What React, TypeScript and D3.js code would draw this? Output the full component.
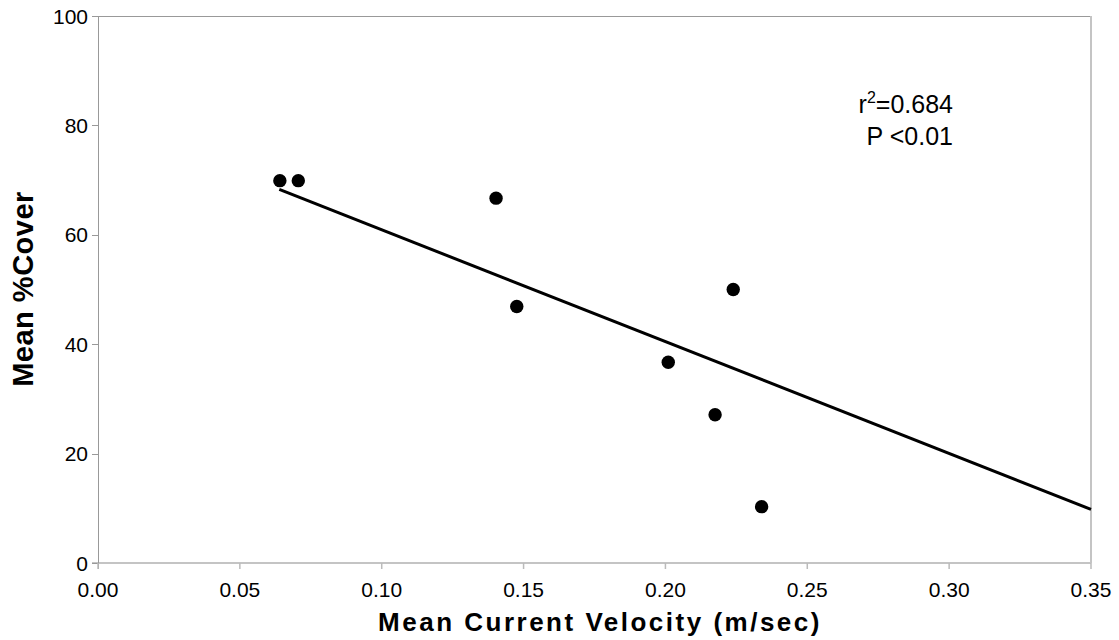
import React from "react";
import * as d3 from "d3";

const velocity = [0.0641, 0.0706, 0.1403, 0.1476, 0.2239, 0.201, 0.2175, 0.2339];
const cover = [69.9, 69.9, 66.7, 46.9, 50.0, 36.7, 27.1, 10.3];
const trendX = [0.0639, 0.35];
const trendY = [68.3, 9.8];
const xTicks = [0, 0.05, 0.1, 0.15, 0.2, 0.25, 0.3, 0.35];
const yTicks = [0, 20, 40, 60, 80, 100];
const annotation = ["=0.684", "P <0.01"];

const W = 1119, H = 640;
const L = 98, R = 1091, T = 16, B = 563;

export default function App() {
  const x = d3.scaleLinear().domain([0, 0.35]).range([L, R]);
  const y = d3.scaleLinear().domain([0, 100]).range([B, T]);
  const line = d3.line<[number, number]>().x(d => x(d[0])).y(d => y(d[1]));
  const trend: [number, number][] = trendX.map((v, i) => [v, trendY[i]]);
  const font = "'Liberation Sans', Arial, sans-serif";
  return (
    <div style={{ position: "absolute", left: 0, top: 0 }}>
      <svg width={W} height={H} style={{ display: "block", background: "#fff" }} fontFamily={font}>
        {/* frame */}
        <line x1={L} x2={R} y1={T + 0.5} y2={T + 0.5} stroke="#999" strokeWidth={1} />
        <line x1={R} x2={R} y1={T} y2={B} stroke="#c4c4c4" strokeWidth={2} />
        <line x1={L - 6} x2={R} y1={B} y2={B} stroke="#c4c4c4" strokeWidth={2} />
        <line x1={L + 0.5} x2={L + 0.5} y1={T} y2={B + 6} stroke="#999" strokeWidth={1} />
        {yTicks.map(t => (
          <g key={"y" + t}>
            <line x1={L - 6} x2={L} y1={Math.round(y(t)) + 0.5} y2={Math.round(y(t)) + 0.5} stroke="#999" />
            <text x={88} y={y(t)} dy="0.36em" textAnchor="end" fontSize={21} fill="#000">{t}</text>
          </g>
        ))}
        {xTicks.map(t => (
          <g key={"x" + t}>
            <line x1={x(t)} x2={x(t)} y1={B} y2={B + 6} stroke="#bbb" strokeWidth={1.5} />
            <text x={x(t)} y={597} textAnchor="middle" fontSize={21} fill="#000">{t.toFixed(2)}</text>
          </g>
        ))}
        <path d={line(trend) || ""} stroke="#000" strokeWidth={3} fill="none" />
        {velocity.map((v, i) => (
          <circle key={i} cx={x(v)} cy={y(cover[i])} r={6.7} fill="#000" />
        ))}
        <text x={953} y={113} textAnchor="end" fontSize={25} fill="#000">
          r<tspan dy={-10} fontSize={16}>2</tspan><tspan dy={10}>{annotation[0]}</tspan>
        </text>
        <text x={953} y={145} textAnchor="end" fontSize={25} fill="#000">{annotation[1]}</text>
        <text x={600} y={631} textAnchor="middle" fontSize={26} fontWeight="bold" letterSpacing={2.5} fill="#000">
          Mean Current Velocity  (m/sec)
        </text>
        <text transform="translate(33,289) rotate(-90)" textAnchor="middle" fontSize={29} fontWeight="bold" letterSpacing={0.5} fill="#000">
          Mean %Cover
        </text>
      </svg>
    </div>
  );
}
